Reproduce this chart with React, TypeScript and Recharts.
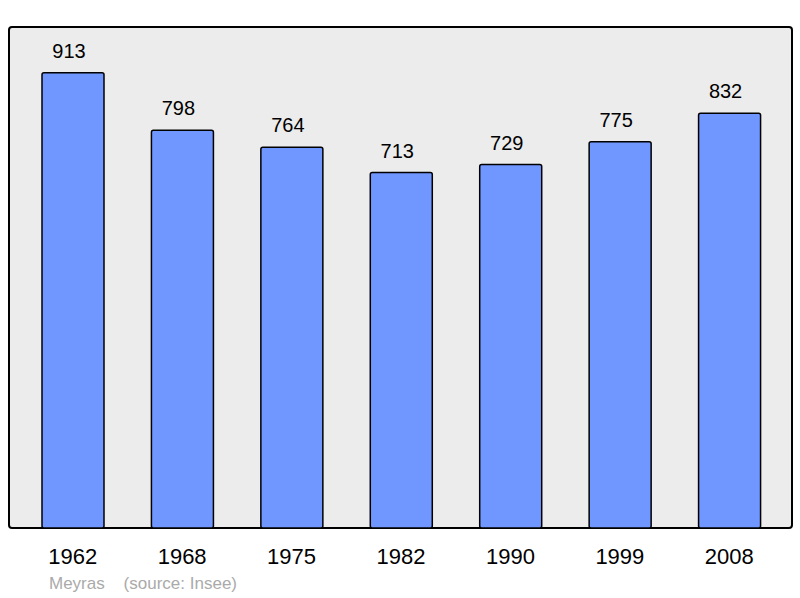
import { Bar, BarChart, LabelList, XAxis, YAxis } from "recharts"

const years = ["1962", "1968", "1975", "1982", "1990", "1999", "2008"]
const population = [913, 798, 764, 713, 729, 775, 832]

const data = years.map((year, i) => ({ year, population: population[i] }))

export default function App() {
  return (
    <div style={{ position: "relative", width: 800, height: 598, fontFamily: "'Liberation Sans', Arial, sans-serif" }}>
      <style>{"body{margin:0}"}</style>
      {/* plot frame */}
      <div
        style={{
          position: "absolute",
          left: 8,
          top: 26,
          width: 781,
          height: 499,
          border: "2px solid #000",
          borderRadius: 4,
          background: "#ececec",
        }}
      />
      <div style={{ position: "absolute", left: 0, top: 0 }}>
        <BarChart
          width={800}
          height={598}
          data={data}
          margin={{ top: 27, right: 8, left: 9, bottom: 40 }}
          style={{ fontFamily: "'Liberation Sans', Arial, sans-serif" }}
        >
          <XAxis
            dataKey="year"
            axisLine={false}
            tickLine={false}
            tickMargin={14}
            padding={{ left: 9, right: 8 }}
            tick={{ fontSize: 22, fill: "#000" }}
            interval={0}
          />
          <YAxis hide domain={[0, 1005]} />
          <Bar dataKey="population" fill="#7096ff" stroke="#000" strokeWidth={1.5} barSize={62} radius={2} isAnimationActive={false}>
            <LabelList dataKey="population" position="top" offset={15} dx={-4} style={{ fontSize: 20, fill: "#000" }} />
          </Bar>
        </BarChart>
      </div>
      <div style={{ position: "absolute", left: 49, top: 574, fontSize: 17, color: "#aaa", whiteSpace: "pre" }}>
        {"Meyras    (source: Insee)"}
      </div>
    </div>
  )
}
